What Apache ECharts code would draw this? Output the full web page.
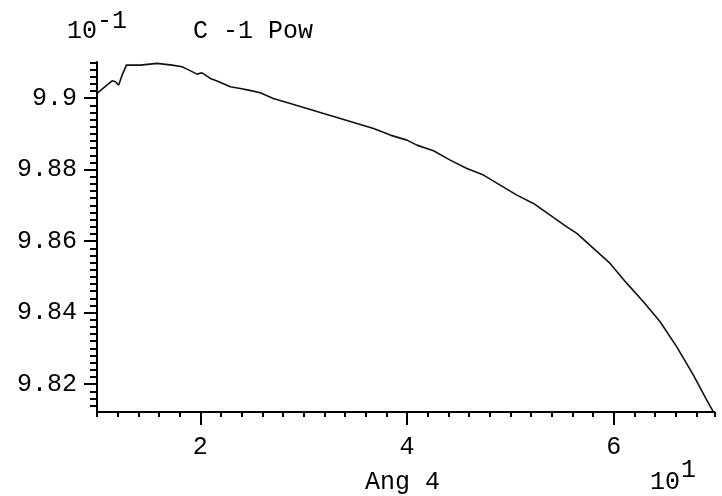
<!DOCTYPE html>
<html>
<head>
<meta charset="utf-8">
<script src="https://cdn.jsdelivr.net/npm/echarts@6/dist/echarts.min.js"></script>
<style>
  html, body { margin: 0; padding: 0; background: #fff; }
  #chart { width: 722px; height: 496px; }
</style>
</head>
<body>
<div id="chart"></div>
<script>
// Angle (x, in units of 10^1) and power (y, in units of 10^-1)
const angle = [1.0, 1.146, 1.178, 1.210, 1.243, 1.284, 1.420, 1.436, 1.581, 1.594,
  1.726, 1.739, 1.823, 1.871, 1.968, 2.016, 2.097, 2.162, 2.290, 2.387,
  2.467, 2.580, 2.706, 2.870, 3.032, 3.192, 3.354, 3.515, 3.676, 3.838,
  3.999, 4.095, 4.256, 4.418, 4.579, 4.740, 4.901, 5.063, 5.223, 5.385,
  5.546, 5.643, 5.804, 5.965, 6.127, 6.287, 6.449, 6.610, 6.771, 6.900, 6.964];
const power = [9.9013, 9.90484, 9.90456, 9.90364, 9.90643, 9.90923, 9.90923, 9.90971, 9.90971, 9.90923,
  9.90923, 9.90876, 9.90876, 9.90811, 9.90671, 9.90708, 9.90551, 9.90476, 9.90316, 9.90271,
  9.90224, 9.90148, 9.89992, 9.89852, 9.89712, 9.89572, 9.89432, 9.89292, 9.89152, 9.88965,
  9.88825, 9.88685, 9.88526, 9.88266, 9.88033, 9.87846, 9.87566, 9.87287, 9.87054, 9.86727,
  9.86400, 9.86215, 9.85796, 9.85376, 9.84817, 9.84302, 9.83743, 9.83043, 9.82252, 9.81552, 9.81225];

// Axis ranges and tick values
const xMin = 1.0, xMax = 6.975;
const yMin = 9.8122, yMax = 9.9101;
const xMajorTicks = [2, 4, 6];
const yMajorTicks = [9.82, 9.84, 9.86, 9.88, 9.9];

// Minor ticks: every 0.2 on x, every 0.002 on y (plus the x axis end points)
const xMinorTicks = [xMin];
for (let i = 6; i <= 34; i++) xMinorTicks.push(+(i * 0.2).toFixed(3));
xMinorTicks.push(xMax);
const yMinorTicks = [];
for (let i = 4907; i <= 4955; i++) yMinorTicks.push(+(i * 0.002).toFixed(4));

const FONT = '"Courier New", "Liberation Mono", monospace';
const FS = 25;
const INK = '#000';

const chart = echarts.init(document.getElementById('chart'), null, { renderer: 'canvas' });

const baseAxis = {
  type: 'value',
  splitLine: { show: false },
  axisLine: { show: true, onZero: false, lineStyle: { color: INK, width: 2 } }
};

chart.setOption({
  animation: false,
  backgroundColor: '#fff',
  grid: { left: 97, right: 7.5, top: 62, bottom: 84, containLabel: false },
  xAxis: [
    Object.assign({}, baseAxis, {
      min: xMin, max: xMax, position: 'bottom',
      axisTick: { show: true, customValues: xMajorTicks, length: 13, lineStyle: { color: INK, width: 2 } },
      axisLabel: { show: true, customValues: xMajorTicks, margin: 23, color: INK,
        fontFamily: FONT, fontSize: FS, formatter: v => String(v) }
    }),
    Object.assign({}, baseAxis, {
      min: xMin, max: xMax, position: 'bottom',
      axisLine: { show: false },
      axisTick: { show: true, customValues: xMinorTicks, length: 5, lineStyle: { color: INK, width: 2 } },
      axisLabel: { show: false }
    })
  ],
  yAxis: [
    Object.assign({}, baseAxis, {
      min: yMin, max: yMax, position: 'left',
      axisTick: { show: true, customValues: yMajorTicks, length: 13, lineStyle: { color: INK, width: 2 } },
      axisLabel: { show: true, customValues: yMajorTicks, margin: 20, color: INK,
        fontFamily: FONT, fontSize: FS, formatter: v => String(+(+v).toFixed(3)) }
    }),
    Object.assign({}, baseAxis, {
      min: yMin, max: yMax, position: 'left',
      axisLine: { show: false },
      axisTick: { show: true, customValues: yMinorTicks, length: 7, lineStyle: { color: INK, width: 2 } },
      axisLabel: { show: false }
    })
  ],
  series: [{
    type: 'line',
    xAxisIndex: 0,
    yAxisIndex: 0,
    data: angle.map((a, i) => [a, power[i]]),
    showSymbol: false,
    smooth: false,
    lineStyle: { color: '#111', width: 1.6 }
  }],
  graphic: [
    { type: 'text', left: 67, top: 19, style: { text: '10', font: FS + 'px ' + FONT, fill: INK } },
    { type: 'text', left: 97, top: 9, style: { text: '-1', font: FS + 'px ' + FONT, fill: INK } },
    { type: 'text', left: 193, top: 19, style: { text: 'C -1 Pow', font: FS + 'px ' + FONT, fill: INK } },
    { type: 'text', left: 365, top: 470, style: { text: 'Ang 4', font: FS + 'px ' + FONT, fill: INK } },
    { type: 'text', left: 650, top: 470, style: { text: '10', font: FS + 'px ' + FONT, fill: INK } },
    { type: 'text', left: 681, top: 458, style: { text: '1', font: FS + 'px ' + FONT, fill: INK } }
  ]
});
</script>
</body>
</html>
